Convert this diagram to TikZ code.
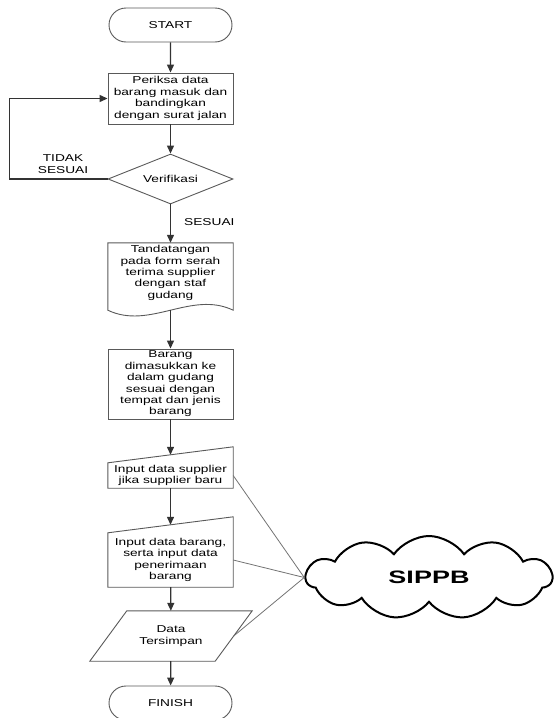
\documentclass[tikz,border=0pt]{standalone}
\usepackage{fontspec}
\setmainfont{Liberation Sans}[FakeStretch=1.37]
\newfontfamily\cloudfont{Liberation Sans}[FakeStretch=1.5]
\usetikzlibrary{arrows.meta,shapes.geometric,shapes.misc,shapes.symbols,calc}

\begin{document}
\begin{tikzpicture}[x=1pt,y=-1pt,
  every node/.style={font=\fontsize{10}{11.4}\selectfont, align=center, inner sep=1pt},
  outline/.style={draw=black!65, line width=0.9pt},
  term/.style={outline, rounded rectangle, minimum width=125pt, minimum height=34pt},
  proc/.style={outline, rectangle, minimum width=125pt},
  ghost/.style={rectangle, minimum width=125pt},
  flow/.style={draw=black!80, line width=1.3pt, -{Triangle[length=8pt,width=7pt]}},
  link/.style={draw=black!55, line width=0.8pt},
]
\useasboundingbox (0,0) rectangle (554,718);

% main column
\node[term] (start) at (170.5,25) {START};
\node[proc, minimum height=51pt] (check) at (170.5,98.5)
  {Periksa data\\barang masuk dan\\bandingkan\\dengan surat jalan};
\node[outline, diamond, aspect=2.5, minimum width=125pt, minimum height=50pt, inner sep=0pt]
  (verify) at (170.5,179) {Verifikasi};

% document shape with wavy bottom
\node[ghost, minimum height=60pt] (sign) at (170.5,273)
  {Tandatangan\\pada form serah\\terima supplier\\dengan staf\\gudang};
\draw[outline] (sign.north west) -- ($(sign.south west)+(0,7)$)
  .. controls ($(sign.south west)+(42,27)$) and ($(sign.south east)+(-42,-13)$)
  .. ($(sign.south east)+(0,7)$) -- (sign.north east) -- cycle;

\node[proc, minimum height=70pt] (store) at (170.5,384)
  {Barang\\dimasukkan ke\\dalam gudang\\sesuai dengan\\tempat dan jenis\\barang};

% manual input shapes
\node[ghost, minimum height=25pt] (supp) at (170.5,475.5)
  {Input data supplier\\jika supplier baru};
\draw[outline] (supp.south west) -- (supp.north west)
  -- ($(supp.north east)+(0,-16)$) -- (supp.south east) -- cycle;

\node[ghost, minimum height=54pt] (goods) at (170.5,560)
  {Input data barang,\\serta input data\\penerimaan\\barang};
\draw[outline] (goods.south west) -- (goods.north west)
  -- ($(goods.north east)+(0,-16)$) -- (goods.south east) -- cycle;

% data parallelogram
\node[ghost, minimum height=50pt] (saved) at (171,636) {Data\\Tersimpan};
\draw[outline] ($(saved.north west)+(18.5,0)$) -- ($(saved.north east)+(18.5,0)$)
  -- ($(saved.south east)+(-18.5,0)$) -- ($(saved.south west)+(-18.5,0)$) -- cycle;

\node[term] (finish) at (170.5,703) {FINISH};

% system cloud
\node[draw=black, line width=2pt, cloud, cloud puffs=11, cloud puff arc=110, aspect=2.9,
  minimum width=246pt, minimum height=83pt,
  font=\cloudfont\bfseries\fontsize{18}{20}\selectfont] (sippb) at (429,577.5) {SIPPB};

% flow arrows
\draw[flow] (start) -- (check);
\draw[flow] (check) -- (verify);
\draw[flow] (verify) -- (sign);
\draw[flow] ($(sign.south)+(0,7)$) -- (store);
\draw[flow] (store) -- ($(supp.north)+(0,-8)$);
\draw[flow] (supp) -- ($(goods.north)+(0,-8)$);
\draw[flow] (goods) -- (saved);
\draw[flow] (saved) -- (finish);
\draw[flow] (verify.west) -- ++(-98,0) |- (check.west);

% decision labels
\node (nomatch) at (63,164) {TIDAK\\SESUAI};
\node[anchor=west] (match) at (183,222) {SESUAI};

% links to the system
\draw[link] (supp.east) -- (sippb.west);
\draw[link] (goods.east) -- (sippb.west);
\draw[link] (saved.east) -- (sippb.west);
\end{tikzpicture}
\end{document}
